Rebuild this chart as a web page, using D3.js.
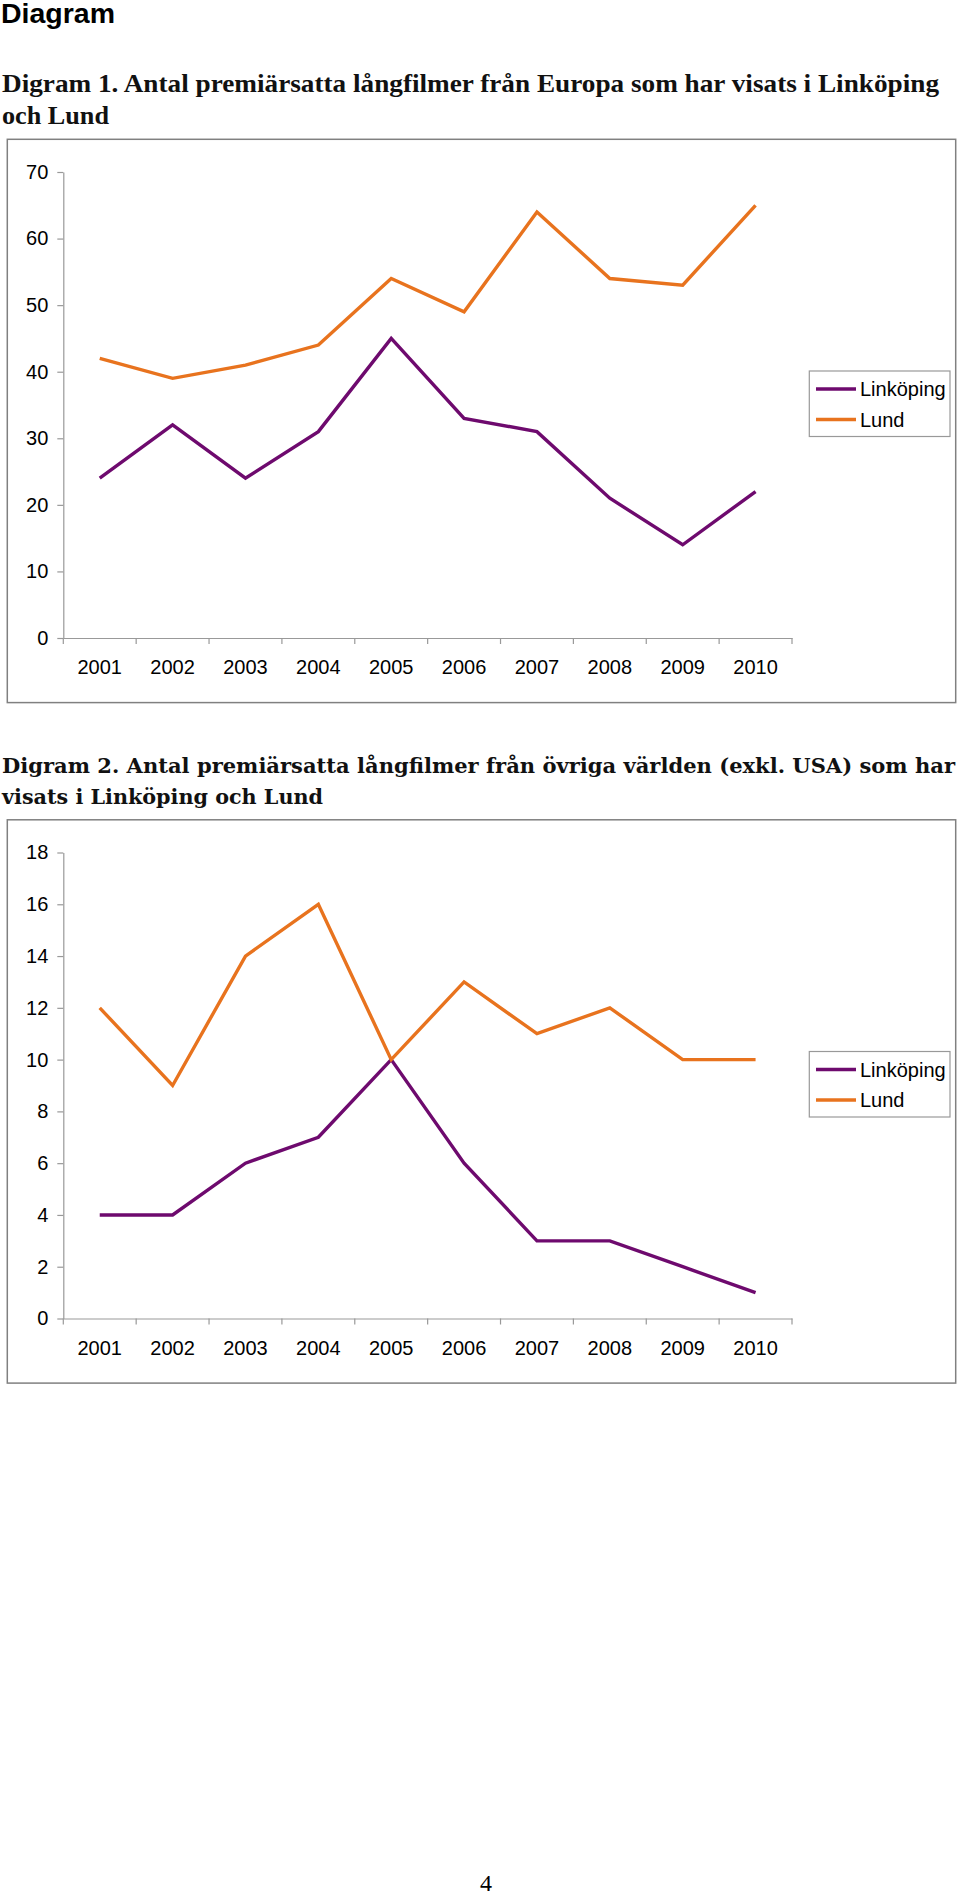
<!DOCTYPE html>
<html>
<head>
<meta charset="utf-8">
<script src="https://cdn.jsdelivr.net/npm/d3@7"></script>
<style>
  html, body { margin: 0; padding: 0; background: #fff; }
  svg { display: block; }
</style>
</head>
<body>
<svg id="page" width="960" height="1895"></svg>
<script>
// ---- data ----
const years = ["2001","2002","2003","2004","2005","2006","2007","2008","2009","2010"];
const seriesNames = ["Linköping", "Lund"];
const seriesColors = ["#6e0a6e", "#e8731e"];

const linkoping1 = [24, 32, 24, 31, 45, 33, 31, 21, 14, 22];
const lund1      = [42, 39, 41, 44, 54, 49, 64, 54, 53, 65];
const yTicks1    = [0, 10, 20, 30, 40, 50, 60, 70];

const linkoping2 = [4, 4, 6, 7, 10, 6, 3, 3, 2, 1];
const lund2      = [12, 9, 14, 16, 10, 13, 11, 12, 10, 10];
const yTicks2    = [0, 2, 4, 6, 8, 10, 12, 14, 16, 18];

const pageTitle = "Diagram";
const title1 = ["Digram 1. Antal premiärsatta långfilmer från Europa som har visats i Linköping", "och Lund"];
const title2 = ["Digram 2. Antal premiärsatta långfilmer från övriga världen (exkl. USA) som har", "visats i Linköping och Lund"];
const pageNumber = "4";

// ---- drawing ----
const svg = d3.select("#page");
svg.append("rect").attr("width", 960).attr("height", 1895).attr("fill", "#fff");

svg.append("text").text(pageTitle)
  .attr("x", 1).attr("y", 23)
  .attr("font-family", "Liberation Sans, Arial, sans-serif")
  .attr("font-weight", "bold").attr("font-size", 27)
  .attr("textLength", 114).attr("lengthAdjust", "spacingAndGlyphs")
  .attr("fill", "#000");

function titleLines(lines, baselines, widths, family, size) {
  lines.forEach((t, i) => {
    svg.append("text").text(t)
      .attr("x", 2).attr("y", baselines[i])
      .attr("font-family", family)
      .attr("font-weight", "bold").attr("font-size", size)
      .attr("textLength", widths[i]).attr("lengthAdjust", "spacingAndGlyphs")
      .attr("fill", "#111");
  });
}
titleLines(title1, [91.5, 123.5], [937, 107], "Liberation Serif, serif", 25);
titleLines(title2, [773, 804], [953, 321], "DejaVu Serif, serif", 21);

function drawChart(offsetY, linkoping, lund, yTicks) {
  const g = svg.append("g").attr("transform", `translate(0,${offsetY})`);
  // frame
  g.append("rect")
    .attr("x", 7.3).attr("y", 139.3).attr("width", 948.4).attr("height", 563.3)
    .attr("fill", "none").attr("stroke", "#808080").attr("stroke-width", 1.5);

  const x = d3.scaleBand().domain(years).range([63.3, 792]);
  const y = d3.scaleLinear().domain([0, d3.max(yTicks)]).range([638, 172]);

  // y axis
  const ya = g.append("g").attr("transform", "translate(63.3,0)")
    .call(d3.axisLeft(y).tickValues(yTicks).tickSize(6).tickSizeOuter(0).tickPadding(9));
  ya.select(".domain").attr("stroke", "#999").attr("stroke-width", 1.2);
  ya.selectAll(".tick line").attr("stroke", "#999").attr("stroke-width", 1.2);
  ya.selectAll(".tick text").attr("font-family", "Liberation Sans, Arial, sans-serif")
    .attr("font-size", 20).attr("fill", "#000");

  // x axis
  const xa = g.append("g").attr("transform", `translate(0,${y(0)})`)
    .call(d3.axisBottom(x).tickSize(0).tickPadding(22).tickSizeOuter(0));
  xa.select(".domain").attr("stroke", "#999").attr("stroke-width", 1.2);
  xa.selectAll(".tick text").attr("font-family", "Liberation Sans, Arial, sans-serif")
    .attr("font-size", 20).attr("fill", "#000");
  const bounds = years.map(d => x(d)).concat([x.range()[1]]);
  xa.selectAll("line.bound").data(bounds).enter().append("line")
    .attr("class", "bound")
    .attr("x1", d => d).attr("x2", d => d).attr("y1", 0).attr("y2", 6)
    .attr("stroke", "#999").attr("stroke-width", 1.2);

  // lines
  const line = d3.line()
    .x((d, i) => x(years[i]) + x.bandwidth() / 2)
    .y(d => y(d));
  [linkoping, lund].forEach((vals, k) => {
    g.append("path").datum(vals)
      .attr("d", line)
      .attr("fill", "none")
      .attr("stroke", seriesColors[k])
      .attr("stroke-width", 3.4)
      .attr("stroke-linejoin", "miter");
  });

  // legend
  const lg = g.append("g");
  lg.append("rect").attr("x", 809.3).attr("y", 371).attr("width", 140.7).attr("height", 65.5)
    .attr("fill", "#fff").attr("stroke", "#999").attr("stroke-width", 1.2);
  const ly = d3.scalePoint().domain(seriesNames).range([389, 419.5]);
  seriesNames.forEach((n, k) => {
    lg.append("line").attr("x1", 816).attr("x2", 856)
      .attr("y1", ly(n)).attr("y2", ly(n))
      .attr("stroke", seriesColors[k]).attr("stroke-width", 3.4);
    lg.append("text").text(n).attr("x", 860).attr("y", ly(n))
      .attr("dy", "0.35em")
      .attr("font-family", "Liberation Sans, Arial, sans-serif")
      .attr("font-size", 20).attr("fill", "#000");
  });
}

drawChart(0, linkoping1, lund1, yTicks1);
drawChart(680.5, linkoping2, lund2, yTicks2);

svg.append("text").text(pageNumber)
  .attr("x", 486).attr("y", 1891)
  .attr("text-anchor", "middle")
  .attr("font-family", "Liberation Serif, serif")
  .attr("font-size", 24).attr("fill", "#000");
</script>
</body>
</html>
